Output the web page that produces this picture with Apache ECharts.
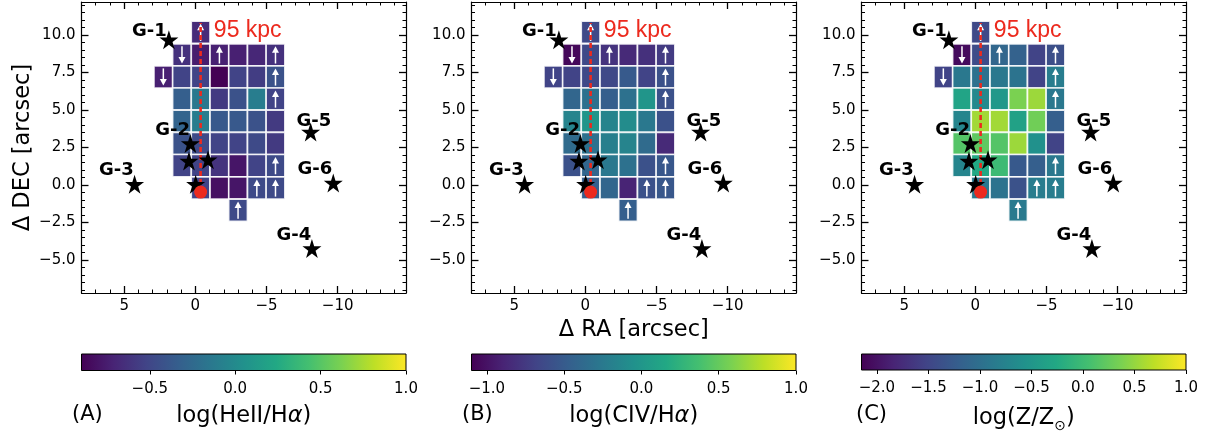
<!DOCTYPE html>
<html>
<head>
<meta charset="utf-8">
<script src="https://cdn.jsdelivr.net/npm/echarts@6/dist/echarts.min.js"></script>
<style>
html, body { margin: 0; padding: 0; background: #fff; }
#chart { width: 1211px; height: 434px; }
</style>
</head>
<body>
<div id="chart"></div>
<script>
// spaxel centres (arcsec)
var raCenters = [2.25, 0.94, -0.37, -1.69, -3.0, -4.32, -5.63];
var decCenters = [10.18, 8.67, 7.2, 5.73, 4.25, 2.77, 1.29, -0.2, -1.68];
var cellW = 1.31, cellH = 1.48;

// log(HeII/Ha), rows top -> bottom, cols left -> right
var heiiHa = [
    [null, null, -0.67, null, null, null, null],
    [null, -0.63, -0.75, -0.73, -0.73, -0.69, -0.63],
    [-0.73, -0.52, -0.52, -0.90, -0.52, -0.56, -0.42],
    [null, -0.33, -0.14, -0.58, -0.42, -0.10, -0.52],
    [null, -0.29, -0.10, -0.37, -0.37, -0.42, -0.58],
    [null, -0.42, -0.48, -0.52, -0.52, -0.48, -0.58],
    [null, -0.52, -0.52, -0.62, -0.79, -0.52, -0.48],
    [null, null, -0.52, -0.82, -0.79, -0.48, -0.48],
    [null, null, null, null, -0.48, null, null]
];
// log(CIV/Ha)
var civHa = [
    [null, null, -0.64, null, null, null, null],
    [null, -1.06, -0.64, -0.79, -0.85, -0.81, -0.74],
    [-0.68, -0.68, -0.64, -0.64, -0.51, -0.68, -0.58],
    [null, -0.41, -0.32, -0.47, -0.32, -0.01, -0.58],
    [null, -0.16, -0.01, -0.16, -0.09, -0.26, -0.58],
    [null, -0.37, -0.32, -0.20, -0.16, -0.37, -0.85],
    [null, -0.58, -0.41, -0.26, -0.32, -0.58, -0.53],
    [null, null, -0.47, -0.41, -0.89, -0.58, -0.53],
    [null, null, null, null, -0.47, null, null]
];
// log(Z/Zsun)
var metal = [
    [null, null, -1.46, null, null, null, null],
    [null, -2.06, -1.43, -1.11, -1.17, -1.52, -1.39],
    [-1.52, -0.89, -0.98, -0.89, -0.95, -1.52, -0.83],
    [null, -0.32, -0.67, -0.48, 0.37, 0.53, -0.89],
    [null, -0.73, 0.56, 0.56, -0.35, 0.31, -1.21],
    [null, 0.15, 0.21, 0.15, 0.53, -0.58, -1.52],
    [null, -0.73, -0.26, -0.01, -1.27, -1.21, -0.89],
    [null, null, -0.89, -0.95, -1.36, -0.83, -0.83],
    [null, null, null, null, -0.86, null, null]
];

// [col, row, dir]  1 = lower limit (up arrow), -1 = upper limit
var limits = [
    [2, 0, 1], [1, 1, -1], [3, 1, 1], [6, 1, 1], [0, 2, -1], [6, 2, 1],
    [6, 3, 1], [6, 6, 1], [5, 7, 1], [6, 7, 1], [4, 8, 1]
];

// galaxies [ra, dec]
var galaxies = [
    [1.86, 9.69], [0.35, 2.76], [0.45, 1.6], [-0.89, 1.69], [-0.02, 0.05],
    [4.27, 0.05], [-8.1, 3.53], [-9.69, 0.13], [-8.19, -4.24]
];
var galaxyNames = ['G-1', 'G-2', 'G-3', 'G-5', 'G-6', 'G-4'];
var nameRa = [3.23, 1.6, 5.55, -8.33, -8.4, -6.92];
var nameDec = [10.25, 3.65, 0.98, 4.25, 1.05, -3.35];

var qso = [-0.37, -0.47];
var slitTop = 10.8;
var scaleText = '95 kpc';
var scaleTextPos = [-3.68, 10.3];

var xTicks = [5, 0, -5, -10];
var yTicks = [10, 7.5, 5, 2.5, 0, -2.5, -5];
var xMinor = [], yMinor = [];
for (var k = -14; k <= 7; k++) xMinor.push(k);
for (var k2 = -14; k2 <= 24; k2++) yMinor.push(k2 / 2);

var cbarTicksA = [-0.5, 0, 0.5, 1.0];
var cbarTicksB = [-1.0, -0.5, 0, 0.5, 1.0];
var cbarTicksC = [-2.0, -1.5, -1.0, -0.5, 0, 0.5, 1.0];

var viridis = ['#440154', '#482475', '#414487', '#355f8d', '#2a788e', '#21918c',
    '#22a884', '#44bf70', '#7ad151', '#bddf26', '#fde725'];

var panels = [
    { data: heiiHa, vmin: -0.9, vmax: 1.0, ticks: cbarTicksA, tag: '(A)', label: 'log(HeII/H{i|\u03b1})' },
    { data: civHa, vmin: -1.1, vmax: 1.0, ticks: cbarTicksB, tag: '(B)', label: 'log(CIV/H{i|\u03b1})' },
    { data: metal, vmin: -2.15, vmax: 1.0, ticks: cbarTicksC, tag: '(C)', label: 'log(Z/Z{s|\u2299})' }
];

var FONT = 'DejaVu Sans';
var RED = '#ec2a1e';
var panelLeft = [81.5, 471.5, 861.5];
var tagLeft = [72, 462, 856];
var panelW = 324.5, panelTop = 2, panelH = 291;
var cbarTop = 354, cbarH = 16.5;

var minus = function(s) { return String(s).replace('-', '\u2212'); };
var fmtInt = function(v) { return minus(v); };
var fmt1 = function(v) { return minus(v.toFixed(1)); };

// 坐标轴
var axisDef = function(gridIndex, pos, min, max, inverse, values, len, line, label, fmt) {
    return {
        gridIndex: gridIndex, type: 'value', position: pos, min: min, max: max, inverse: inverse,
        axisLine: { show: line, onZero: false, lineStyle: { color: '#000', width: 1.2 } },
        axisTick: { show: true, inside: true, length: len, customValues: values,
            lineStyle: { color: '#000', width: len > 5 ? 1.3 : 1 } },
        axisLabel: { show: label, customValues: values, formatter: fmt, fontSize: 15,
            color: '#000', fontFamily: FONT, margin: 6 },
        splitLine: { show: false }
    };
};

var grids = [], xAxes = [], yAxes = [], series = [], visualMaps = [], graphics = [];

panels.forEach(function(p, i) {
    grids.push({ left: panelLeft[i], top: panelTop, width: panelW, height: panelH });
});
panels.forEach(function(p, i) {
    grids.push({ left: panelLeft[i], top: cbarTop, width: panelW, height: cbarH });
});

panels.forEach(function(p, i) {
    var xm = axisDef(i, 'bottom', -14.8, 8, true, xTicks, 7, true, true, fmtInt);
    if (i == 1) {
        xm.name = '\u0394 RA [arcsec]';
        xm.nameLocation = 'middle';
        xm.nameGap = 23;
        xm.nameTextStyle = { fontSize: 22.5, color: '#000', fontFamily: FONT };
    }
    xAxes.push(xm);
    xAxes.push(axisDef(i, 'bottom', -14.8, 8, true, xMinor, 3.5, false, false));
    xAxes.push(axisDef(i, 'top', -14.8, 8, true, xTicks, 7, true, false));
    xAxes.push(axisDef(i, 'top', -14.8, 8, true, xMinor, 3.5, false, false));

    var ym = axisDef(i, 'left', -7.2, 12.2, false, yTicks, 7, true, true, fmt1);
    if (i == 0) {
        ym.name = '\u0394 DEC [arcsec]';
        ym.nameLocation = 'middle';
        ym.nameGap = 47;
        ym.nameRotate = 90;
        ym.nameTextStyle = { fontSize: 22.5, color: '#000', fontFamily: FONT };
    }
    yAxes.push(ym);
    yAxes.push(axisDef(i, 'left', -7.2, 12.2, false, yMinor, 3.5, false, false));
    yAxes.push(axisDef(i, 'right', -7.2, 12.2, false, yTicks, 7, true, false));
    yAxes.push(axisDef(i, 'right', -7.2, 12.2, false, yMinor, 3.5, false, false));
});

// colorbar axes
panels.forEach(function(p, i) {
    xAxes.push({
        gridIndex: 3 + i, type: 'value', min: p.vmin, max: p.vmax, position: 'bottom',
        axisLine: { show: false, onZero: false },
        axisTick: { show: true, inside: false, length: 4, customValues: p.ticks,
            lineStyle: { color: '#000', width: 1 } },
        axisLabel: { customValues: p.ticks, formatter: fmt1, fontSize: 15, color: '#000',
            fontFamily: FONT, margin: 11 },
        splitLine: { show: false },
        name: p.label, nameLocation: 'middle', nameGap: 34,
        nameTextStyle: { fontSize: 22.5, color: '#000', fontFamily: FONT,
            rich: {
                s: { fontSize: 14, fontFamily: FONT, color: '#000', padding: [15, 0, 0, 0] },
                i: { fontSize: 22.5, fontFamily: FONT, fontStyle: 'italic', color: '#000' }
            } }
    });
    yAxes.push({ gridIndex: 3 + i, type: 'value', min: 0, max: 1, show: false });
    graphics.push({ type: 'text', left: tagLeft[i], top: 404,
        style: { text: p.tag, font: '21px "DejaVu Sans"', fill: '#000' } });
});

var cellData = function(vals) {
    var out = [];
    for (var r = 0; r < vals.length; r++) {
        for (var c = 0; c < vals[r].length; c++) {
            if (vals[r][c] != null) out.push([raCenters[c], decCenters[r], vals[r][c]]);
        }
    }
    return out;
};

var starPath = 'path://M50,0 L61.2,34.5 L97.6,34.5 L68.2,55.9 L79.4,90.5 L50,69.1 L20.6,90.5 L31.8,55.9 L2.4,34.5 L38.8,34.5 Z';

panels.forEach(function(p, i) {
    var xi = 4 * i, yi = 4 * i;
    // cells
    visualMaps.push({
        type: 'continuous', show: false, min: p.vmin, max: p.vmax, dimension: 2,
        seriesIndex: series.length, inRange: { color: viridis }
    });
    series.push({
        type: 'custom', xAxisIndex: xi, yAxisIndex: yi, z: 2,
        encode: { x: 0, y: 1 },
        data: cellData(p.data),
        renderItem: function(params, api) {
            var x = api.value(0), y = api.value(1);
            var a = api.coord([x + cellW / 2, y + cellH / 2]);
            var b = api.coord([x - cellW / 2, y - cellH / 2]);
            return {
                type: 'rect',
                shape: { x: Math.min(a[0], b[0]), y: Math.min(a[1], b[1]),
                    width: Math.abs(b[0] - a[0]), height: Math.abs(b[1] - a[1]) },
                style: { fill: api.visual('color'), stroke: 'rgba(255,255,255,0.85)', lineWidth: 1.6 }
            };
        }
    });
    // limit arrows
    series.push({
        type: 'custom', xAxisIndex: xi, yAxisIndex: yi, z: 3,
        data: limits.map(function(l) { return [raCenters[l[0]], decCenters[l[1]], l[2]]; }),
        renderItem: function(params, api) {
            var c = api.coord([api.value(0), api.value(1)]);
            var h = Math.abs(api.size([cellW, cellH])[1]) / 2;
            var d = api.value(2);
            var tip = c[1] - d * (h - 2.5), tail = c[1] + d * (h - 2.5);
            return {
                type: 'group',
                children: [
                    { type: 'line', shape: { x1: c[0], y1: tail, x2: c[0], y2: tip + d * 4 },
                        style: { stroke: '#fff', lineWidth: 1.5 } },
                    { type: 'polygon', shape: { points: [[c[0] - 3.5, tip + d * 6.5], [c[0] + 3.5, tip + d * 6.5], [c[0], tip]] },
                        style: { fill: '#fff' } }
                ]
            };
        }
    });
    // slit line
    series.push({
        type: 'line', xAxisIndex: xi, yAxisIndex: yi, z: 5, symbol: 'none', silent: true,
        data: [[qso[0], qso[1]], [qso[0], slitTop]],
        lineStyle: { color: RED, width: 2.6, type: [5, 3], opacity: 1 }
    });
    // galaxies
    series.push({
        type: 'scatter', xAxisIndex: xi, yAxisIndex: yi, z: 6, symbol: starPath, symbolSize: 19,
        data: galaxies, itemStyle: { color: '#000', opacity: 1 }
    });
    // qso
    series.push({
        type: 'scatter', xAxisIndex: xi, yAxisIndex: yi, z: 7, symbolSize: 13,
        data: [qso], itemStyle: { color: RED, opacity: 1 }
    });
    // galaxy names
    series.push({
        type: 'scatter', xAxisIndex: xi, yAxisIndex: yi, z: 8, symbolSize: 0.1,
        itemStyle: { color: 'transparent', opacity: 1 },
        data: galaxyNames.map(function(n, j) { return { name: n, value: [nameRa[j], nameDec[j]] }; }),
        label: { show: true, position: 'inside', formatter: '{b}', fontSize: 18, fontWeight: 'bold',
            color: '#000', fontFamily: FONT }
    });
    // scale text
    series.push({
        type: 'scatter', xAxisIndex: xi, yAxisIndex: yi, z: 8, symbolSize: 0.1,
        itemStyle: { color: 'transparent', opacity: 1 },
        data: [{ name: scaleText, value: scaleTextPos }],
        label: { show: true, position: 'inside', formatter: '{b}', fontSize: 23,
            color: RED, fontFamily: 'Liberation Sans' }
    });
    // colorbar
    series.push({
        type: 'custom', xAxisIndex: 12 + i, yAxisIndex: 12 + i,
        data: [[p.vmin, p.vmax]],
        renderItem: function(params, api) {
            var a = api.coord([api.value(0), 1]);
            var b = api.coord([api.value(1), 0]);
            return {
                type: 'rect',
                shape: { x: a[0], y: a[1], width: b[0] - a[0], height: b[1] - a[1] },
                style: {
                    fill: { type: 'linear', x: 0, y: 0, x2: 1, y2: 0,
                        colorStops: viridis.map(function(col, j) { return { offset: j / (viridis.length - 1), color: col }; }) },
                    stroke: '#000', lineWidth: 1
                }
            };
        }
    });
});

var chart = echarts.init(document.getElementById('chart'));
chart.setOption({
    animation: false,
    grid: grids,
    xAxis: xAxes,
    yAxis: yAxes,
    visualMap: visualMaps,
    series: series,
    graphic: graphics
});
</script>
</body>
</html>
